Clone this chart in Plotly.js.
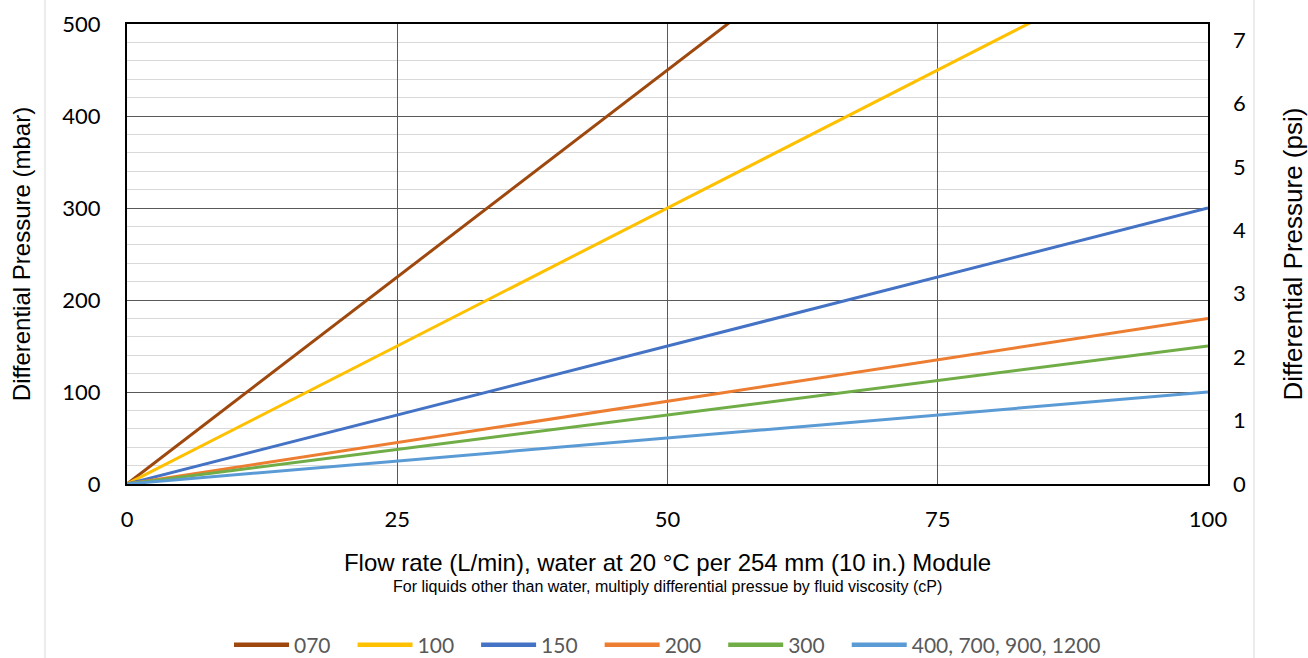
<!DOCTYPE html>
<html><head><meta charset="utf-8">
<script src="https://cdn.plot.ly/plotly-3.0.1.min.js"></script>
<style>html,body{margin:0;padding:0;background:#fff;}#chart{width:1308px;height:658px;}</style>
</head><body><div id="chart"></div>
<script>
// Flow rate (L/min) at the two ends of each straight line
const flowRate = [0, 100];
// Differential pressure (mbar) at those flow rates, per module grade
const series070 = [0, 900];
const series100 = [0, 600];
const series150 = [0, 300];
const series200 = [0, 180];
const series300 = [0, 150];
const series400 = [0, 100];
const seriesNames = ["070", "100", "150", "200", "300", "400, 700, 900, 1200"];
const seriesColors = ["#9E480E", "#FFC000", "#4472C4", "#ED7D31", "#70AD47", "#5B9BD5"];
const xTicks = [0, 25, 50, 75, 100];
const mbarToPsi = 0.0145038;

const allSeries = [series070, series100, series150, series200, series300, series400];
const traces = allSeries.map((ys, i) => ({
  x: flowRate, y: ys, type: "scatter", mode: "lines", name: seriesNames[i],
  line: {color: seriesColors[i], width: 3}, xaxis: "x", yaxis: "y"
}));
// psi companion axis trace (invisible)
traces.push({
  x: flowRate, y: series400.map(v => v * mbarToPsi), type: "scatter", mode: "lines",
  yaxis: "y2", showlegend: false, hoverinfo: "skip", line: {width: 0, color: "rgba(0,0,0,0)"}
});

const tickFont = {family: "Lato, 'Open Sans', sans-serif", size: 22, color: "#000"};
const titleFamily = "'Liberation Sans', Arial, sans-serif";

const layout = {
  width: 1308, height: 658,
  margin: {l: 127, r: 100, t: 24, b: 174},
  paper_bgcolor: "#fff", plot_bgcolor: "#fff",
  showlegend: true,
  legend: {orientation: "h", x: 0.5, xanchor: "center", yref: "container", y: 13 / 658, yanchor: "middle",
    font: {family: "Lato, 'Open Sans', sans-serif", size: 21, color: "#595959"},
    itemwidth: 55, tracegroupgap: 0},
  xaxis: {
    range: [0, 100], tickvals: xTicks, ticktext: xTicks.map(String),
    tickfont: tickFont, ticks: "", ticklabelstandoff: 15, automargin: false,
    showgrid: true, gridcolor: "#595959", gridwidth: 1,
    showline: true, linecolor: "#000", linewidth: 2, mirror: true, zeroline: false,
    title: {text: "Flow rate (L/min), water at 20 °C per 254 mm (10 in.) Module",
      font: {family: titleFamily, size: 24, color: "#000"}, standoff: 23}
  },
  yaxis: {
    range: [0, 500], dtick: 100, tickfont: tickFont, ticks: "", ticklabelstandoff: 20, automargin: false,
    showgrid: true, gridcolor: "#595959", gridwidth: 1,
    minor: {dtick: 20, showgrid: true, gridcolor: "#d9d9d9", gridwidth: 1},
    showline: true, linecolor: "#000", linewidth: 2, mirror: true, zeroline: false,
    title: {text: "Differential Pressure (mbar)", font: {family: titleFamily, size: 24, color: "#000"}, standoff: 25}
  },
  yaxis2: {
    overlaying: "y", side: "right", range: [0, 500 * mbarToPsi], dtick: 1, automargin: false,
    tickfont: tickFont, ticks: "", ticklabelstandoff: 24, showgrid: false, zeroline: false,
    showline: false,
    title: {text: "Differential Pressure (psi)", font: {family: titleFamily, size: 26, color: "#000"}, standoff: 43}
  },
  annotations: [{
    xref: "paper", yref: "paper", x: 0.5, y: (484 - 586) / 460, xanchor: "center", yanchor: "middle",
    text: "For liquids other than water, multiply differential pressue by fluid viscosity (cP)",
    showarrow: false,
    font: {family: "'Liberation Sans Narrow', 'Liberation Sans', Arial, sans-serif", size: 16, color: "#000"}
  }],
  shapes: [
    {type: "line", xref: "paper", yref: "paper", x0: (45 - 127) / 1081, x1: (45 - 127) / 1081,
      y0: (484 - 658) / 460, y1: 484 / 460, line: {color: "#d9d9d9", width: 1}},
    {type: "line", xref: "paper", yref: "paper", x0: (1254 - 127) / 1081, x1: (1254 - 127) / 1081,
      y0: (484 - 658) / 460, y1: 484 / 460, line: {color: "#d9d9d9", width: 1}}
  ]
};

function parseTranslate(el) {
  const m = /translate\(\s*([-\d.e]+)[ ,]+([-\d.e]+)\s*\)/.exec(el.getAttribute("transform") || "");
  return m ? [parseFloat(m[1]), parseFloat(m[2])] : [0, 0];
}

Plotly.newPlot("chart", traces, layout, {displayModeBar: false, staticPlot: true}).then(gd => {
  // lengthen and thicken legend line samples, widen spacing between entries
  gd.querySelectorAll(".legend .legendlines path").forEach(p => {
    p.setAttribute("d", "M5,0h55");
    p.style.strokeWidth = "4.5px";
  });
  const extra = 17;
  const items = gd.querySelectorAll(".legend .traces");
  items.forEach((g, i) => {
    const [tx, ty] = parseTranslate(g);
    g.setAttribute("transform", `translate(${tx + i * extra},${ty})`);
  });
  const leg = gd.querySelector(".legend");
  if (leg) {
    const [lx, ly] = parseTranslate(leg);
    leg.setAttribute("transform", `translate(${lx - (items.length - 1) * extra / 2},${ly})`);
    leg.querySelectorAll("[clip-path]").forEach(el => el.removeAttribute("clip-path"));
    leg.querySelectorAll("*").forEach(el => { if (el.style && el.style.clipPath) el.style.clipPath = "none"; });
    const bg = leg.querySelector(".bg");
    if (bg) bg.setAttribute("width", parseFloat(bg.getAttribute("width") || 0) + (items.length - 1) * extra);
  }
});
</script></body></html>
